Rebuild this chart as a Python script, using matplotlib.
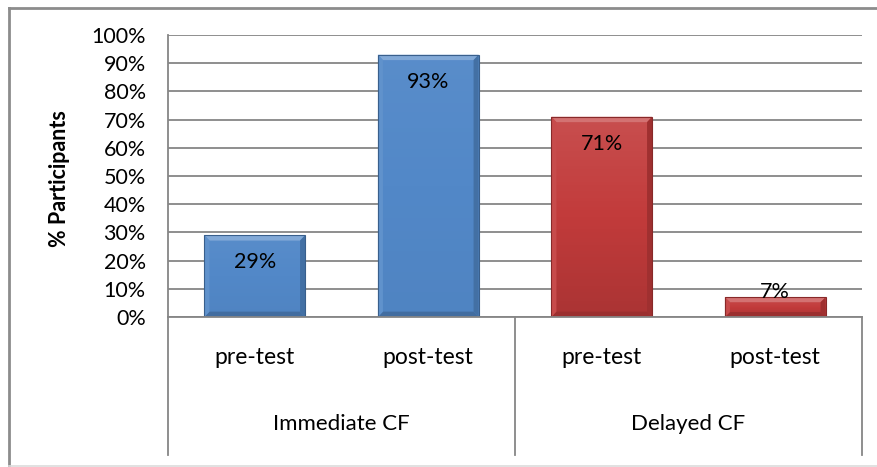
import numpy as np
import matplotlib
matplotlib.use("Agg")
import matplotlib.pyplot as plt
from matplotlib.patches import Rectangle, Polygon
from matplotlib.colors import LinearSegmentedColormap
import matplotlib.transforms as mtransforms

plt.rcParams['font.family'] = ['Lato', 'DejaVu Sans']

# Data
groups = ["Immediate CF", "Delayed CF"]
phases = ["pre-test", "post-test", "pre-test", "post-test"]
values = [29, 93, 71, 7]
labels = ["29%", "93%", "71%", "7%"]
bar_colors = ["#5288C8", "#5288C8", "#C23B3B", "#C23B3B"]
yticks = list(range(0, 101, 10))

FS = 15.5
W, H = 877, 467
fig = plt.figure(figsize=(W / 100, H / 100), dpi=100)
fig.patch.set_facecolor("white")

# outer frame
fig.add_artist(plt.Line2D([8.5 / W, 8.5 / W], [1 - 8 / H, 1 - 466 / H], color="#8C8C8C", lw=2.0, transform=fig.transFigure))
fig.add_artist(plt.Line2D([8.5 / W, 1.0], [1 - 7.5 / H, 1 - 7.5 / H], color="#8C8C8C", lw=2.0, transform=fig.transFigure))
fig.add_artist(plt.Line2D([8.5 / W, 1.0], [1 - 466 / H, 1 - 466 / H], color="#DCDCDC", lw=1.2, transform=fig.transFigure))

left, right, top, bottom = 168, 862, 35, 317
ax = fig.add_axes([left / W, 1 - bottom / H, (right - left) / W, (bottom - top) / H])
ax.set_xlim(-0.5, len(values) - 0.5)
ax.set_ylim(0, 100)

for s in ["top", "right", "bottom"]:
    ax.spines[s].set_visible(False)
ax.spines["left"].set_color("#868686")
ax.spines["left"].set_linewidth(1.3)

ax.set_yticks(yticks)
ax.set_yticklabels([f"{t}%" for t in yticks], fontsize=FS)
ax.tick_params(axis="y", length=0, pad=16)
ax.set_xticks([])
ax.grid(axis="y", color="#868686", lw=1.3)
ax.set_axisbelow(True)

x = np.arange(len(values))
bars = ax.bar(x, values, width=0.58, color=bar_colors, zorder=2, linewidth=0)


def shade(c, f):
    rgb = np.array(matplotlib.colors.to_rgb(c))
    if f >= 0:
        return tuple(rgb + (1 - rgb) * f)
    return tuple(rgb * (1 + f))


# beveled gradient fill on each bar
px_x = 4 * 1.0 / ((right - left) / 1.0)   # one pixel in data x units
for b, c in zip(bars, bar_colors):
    x0, y0 = b.get_x(), b.get_y()
    w, h = b.get_width(), b.get_height()
    if c == "#C23B3B":
        cmap = LinearSegmentedColormap.from_list("g", [shade(c, -0.12), shade(c, 0.0), shade(c, 0.10)])
    else:
        cmap = LinearSegmentedColormap.from_list("g", [shade(c, -0.03), shade(c, 0.0), shade(c, 0.04)])
    grad = np.linspace(0, 1, 64).reshape(-1, 1)
    im = ax.imshow(grad, cmap=cmap, origin="lower", aspect="auto",
                   extent=(x0, x0 + w, y0, y0 + h), zorder=3)
    im.set_clip_path(b)
    b.set_facecolor("none")
    # bevel: top, bottom and side facets
    bx = 5 * px_x
    by = min(1.9, h * 0.25)
    ax.add_patch(Polygon([(x0, y0 + h), (x0 + w, y0 + h), (x0 + w - bx, y0 + h - by), (x0 + bx, y0 + h - by)],
                         closed=True, facecolor=shade(c, 0.28), edgecolor="none", zorder=4))
    ax.add_patch(Polygon([(x0, y0), (x0 + w, y0), (x0 + w - bx, y0 + by), (x0 + bx, y0 + by)],
                         closed=True, facecolor=shade(c, -0.2), edgecolor="none", zorder=4))
    ax.add_patch(Polygon([(x0, y0), (x0, y0 + h), (x0 + bx, y0 + h - by), (x0 + bx, y0 + by)],
                         closed=True, facecolor=shade(c, 0.08), edgecolor="none", zorder=4))
    ax.add_patch(Polygon([(x0 + w, y0), (x0 + w, y0 + h), (x0 + w - bx, y0 + h - by), (x0 + w - bx, y0 + by)],
                         closed=True, facecolor=shade(c, -0.18), edgecolor="none", zorder=4))
    ax.add_patch(Rectangle((x0, y0), w, h, facecolor="none", edgecolor=shade(c, -0.3), lw=0.8, zorder=5))

# value labels inside bars
for xi, v, t in zip(x, values, labels):
    ax.text(xi, max(v - 9.5, 8.8), t, ha="center", va="center", fontsize=FS, color="black", zorder=6)

# two-level category axis
trans = mtransforms.blended_transform_factory(ax.transData, ax.transAxes)
axis_bottom = -(455 - bottom) / (bottom - top)
ax.plot([-0.5, 3.5], [0, 0], color="#868686", lw=1.3, transform=trans, clip_on=False, zorder=7)
for xv in [-0.5, 1.5, 3.5]:
    ax.plot([xv, xv], [0, axis_bottom], color="#868686", lw=1.3, transform=trans, clip_on=False)
for xi, p in zip(x, phases):
    ax.text(xi, -(357 - bottom) / (bottom - top), p, ha="center", va="center",
            fontsize=16.5, transform=trans)
for gi, g in enumerate(groups):
    ax.text(gi * 2 + 0.5, -(424 - bottom) / (bottom - top), g, ha="center", va="center",
            fontsize=16, transform=trans)

fig.text(59 / W, 1 - 179 / H, "% Participants", rotation=90, ha="center", va="center",
         fontsize=FS, fontweight="bold")

fig.savefig("out.png", dpi=100, facecolor="white")
